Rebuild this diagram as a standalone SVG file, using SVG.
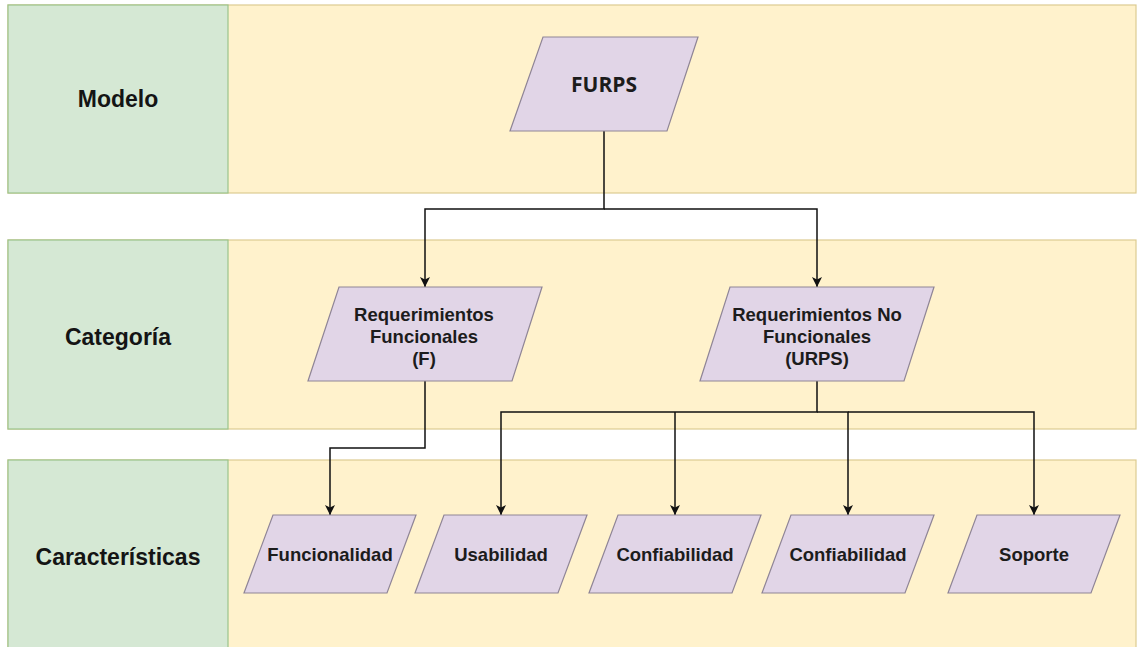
<svg xmlns="http://www.w3.org/2000/svg" width="1138" height="647" viewBox="0 0 1138 647">
  <style>
    .band { fill: #fff2cc; stroke: #dccb91; stroke-width: 1.2; }
    .head { fill: #d5e8d4; stroke: #9cc38b; stroke-width: 1.2; }
    .lane-label { font-family: "Liberation Sans", Arial, sans-serif; font-weight: bold; font-size: 23px; fill: #141414; text-anchor: middle; }
    .shape { fill: #e1d5e7; stroke: #8f8596; stroke-width: 1.2; }
    .label { font-family: "Liberation Sans", Arial, sans-serif; font-weight: bold; font-size: 18.5px; fill: #1c1c1c; text-anchor: middle; }
    .title { font-family: "Open Sans", "Liberation Sans", sans-serif; font-weight: 700; font-size: 21px; fill: #1c1c1c; text-anchor: middle; }
    .edge { fill: none; stroke: #111111; stroke-width: 1.5; }
  </style>
  <defs>
    <marker id="arrow" viewBox="0 0 10 10" refX="10" refY="5" markerWidth="11" markerHeight="10" markerUnits="userSpaceOnUse" orient="auto">
      <path d="M0,0 L10,5 L0,10 L2.5,5 z" fill="#111111"/>
    </marker>
  </defs>

  <rect width="1138" height="647" fill="#ffffff"/>

  <!-- swimlanes -->
  <g id="lane-modelo">
    <rect class="band" x="8" y="5" width="1128" height="188"/>
    <rect class="head" x="8" y="5" width="220" height="188"/>
    <text class="lane-label" x="118" y="107">Modelo</text>
  </g>
  <g id="lane-categoria">
    <rect class="band" x="8" y="240" width="1128" height="189"/>
    <rect class="head" x="8" y="240" width="220" height="189"/>
    <text class="lane-label" x="118" y="345">Categoría</text>
  </g>
  <g id="lane-caracteristicas">
    <rect class="band" x="8" y="460" width="1128" height="200"/>
    <rect class="head" x="8" y="460" width="220" height="200"/>
    <text class="lane-label" x="118" y="565">Características</text>
  </g>

  <!-- connectors -->
  <g id="connectors">
    <path class="edge" d="M604,131 V209 H425 V287" marker-end="url(#arrow)"/>
    <path class="edge" d="M604,209 H817 V287" marker-end="url(#arrow)"/>
    <path class="edge" d="M425,381 V448 H330 V515" marker-end="url(#arrow)"/>
    <path class="edge" d="M817,381 V412 H501 V515" marker-end="url(#arrow)"/>
    <path class="edge" d="M675,412 V515" marker-end="url(#arrow)"/>
    <path class="edge" d="M817,412 H848 V515" marker-end="url(#arrow)"/>
    <path class="edge" d="M848,412 H1034 V515" marker-end="url(#arrow)"/>
  </g>

  <!-- nodes -->
  <g id="furps">
    <polygon class="shape" points="543,37 698,37 667,131 510,131"/>
    <text class="title" x="604" y="92">FURPS</text>
  </g>
  <g id="req-funcionales">
    <polygon class="shape" points="339,287 542,287 512,381 308,381"/>
    <text class="label" x="424" y="321">Requerimientos</text>
    <text class="label" x="424" y="343">Funcionales</text>
    <text class="label" x="424" y="365">(F)</text>
  </g>
  <g id="req-no-funcionales">
    <polygon class="shape" points="730,287 934,287 904,381 700,381"/>
    <text class="label" x="817" y="321">Requerimientos No</text>
    <text class="label" x="817" y="343">Funcionales</text>
    <text class="label" x="817" y="365">(URPS)</text>
  </g>
  <g id="funcionalidad">
    <polygon class="shape" points="273,515 416,515 387,593 244,593"/>
    <text class="label" x="330" y="561">Funcionalidad</text>
  </g>
  <g id="usabilidad">
    <polygon class="shape" points="444,515 587,515 558,593 415,593"/>
    <text class="label" x="501" y="561">Usabilidad</text>
  </g>
  <g id="confiabilidad-1">
    <polygon class="shape" points="618,515 761,515 732,593 589,593"/>
    <text class="label" x="675" y="561">Confiabilidad</text>
  </g>
  <g id="confiabilidad-2">
    <polygon class="shape" points="791,515 934,515 905,593 762,593"/>
    <text class="label" x="848" y="561">Confiabilidad</text>
  </g>
  <g id="soporte">
    <polygon class="shape" points="977,515 1120,515 1091,593 948,593"/>
    <text class="label" x="1034" y="561">Soporte</text>
  </g>
</svg>
